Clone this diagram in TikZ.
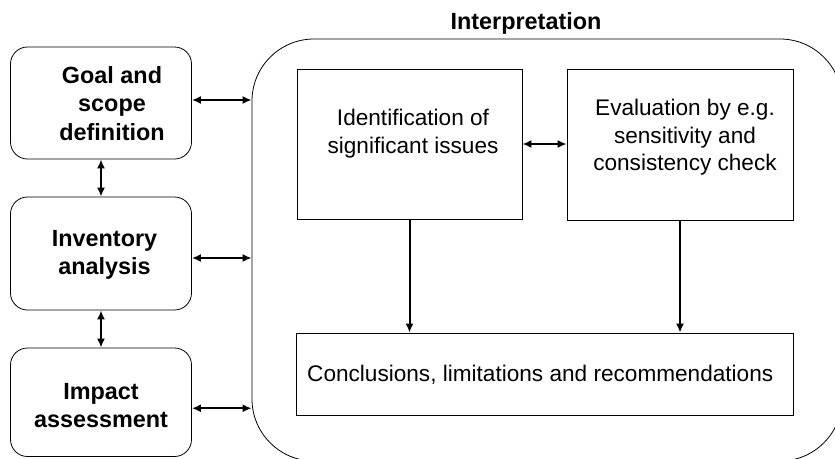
\documentclass[tikz,border=0pt]{standalone}
\usepackage{fontspec}
\setmainfont{Liberation Sans}
\usetikzlibrary{arrows.meta}
\begin{document}
\begin{tikzpicture}[x=1pt,y=-1pt,
  phase/.style={draw,line width=0.8pt,rounded corners=17pt,minimum width=181pt,inner sep=0pt},
  inner/.style={draw,line width=0.8pt,inner sep=0pt},
  boldtxt/.style={align=center,font=\bfseries\fontsize{23.4}{28.5}\selectfont,inner sep=0pt},
  normtxt/.style={align=center,font=\fontsize{22.6}{27.5}\selectfont,inner sep=0pt},
  arr/.style={line width=2pt,{Latex[length=9pt,width=8pt]}-{Latex[length=9pt,width=8pt]}},
  darr/.style={line width=2pt,-{Latex[length=9pt,width=8pt]}}]
\clip (0,0) rectangle (835,458);
% left phases
\node[phase,minimum height=112pt] (goal) at (101,103) {};
\node[phase,minimum height=113pt] (inv) at (101,253.5) {};
\node[phase,minimum height=108.5pt] (imp) at (101,402.25) {};
\node[boldtxt] (goalt) at (112,103.5) {Goal and\\scope\\definition};
\node[boldtxt] (invt) at (104.5,255) {Inventory\\analysis};
\node[boldtxt] (impt) at (101,405.5) {Impact\\assessment};
% interpretation frame
\node[draw,line width=0.8pt,rounded corners=62pt,minimum width=590pt,minimum height=422pt,inner sep=0pt] (interp) at (547,250) {};
\node[boldtxt] (interpt) at (526,23) {Interpretation};
% inner boxes
\node[inner,minimum width=225pt,minimum height=150pt] (ident) at (409.5,144) {};
\node[normtxt] (identt) at (413,133.5) {Identification of\\significant issues};
\node[inner,minimum width=226pt,minimum height=151pt] (eval) at (680,144.5) {};
\node[normtxt] (evalt) at (685,137.5) {Evaluation by e.g.\\sensitivity and\\consistency check};
\node[inner,minimum width=497pt,minimum height=82pt] (concl) at (544.5,374) {};
\node[normtxt,anchor=west] (conclt) at (307,375) {Conclusions, limitations and recommendations};
% connectors
\draw[arr] ([yshift=3pt]goal.east) -- ([yshift=3pt]goal.east -| interp.west);
\draw[arr] ([yshift=-4.5pt]inv.east) -- ([yshift=-4.5pt]inv.east -| interp.west);
\draw[arr] ([yshift=-6pt]imp.east) -- ([yshift=-6pt]imp.east -| interp.west);
\draw[arr] (goal.south) -- (inv.north);
\draw[arr] (inv.south) -- (imp.north);
\draw[arr] (ident.east) -- (ident.east -| eval.west);
\draw[darr] (ident.south) -- (ident.south |- concl.north);
\draw[darr] (eval.south) -- (eval.south |- concl.north);
\end{tikzpicture}
\end{document}
